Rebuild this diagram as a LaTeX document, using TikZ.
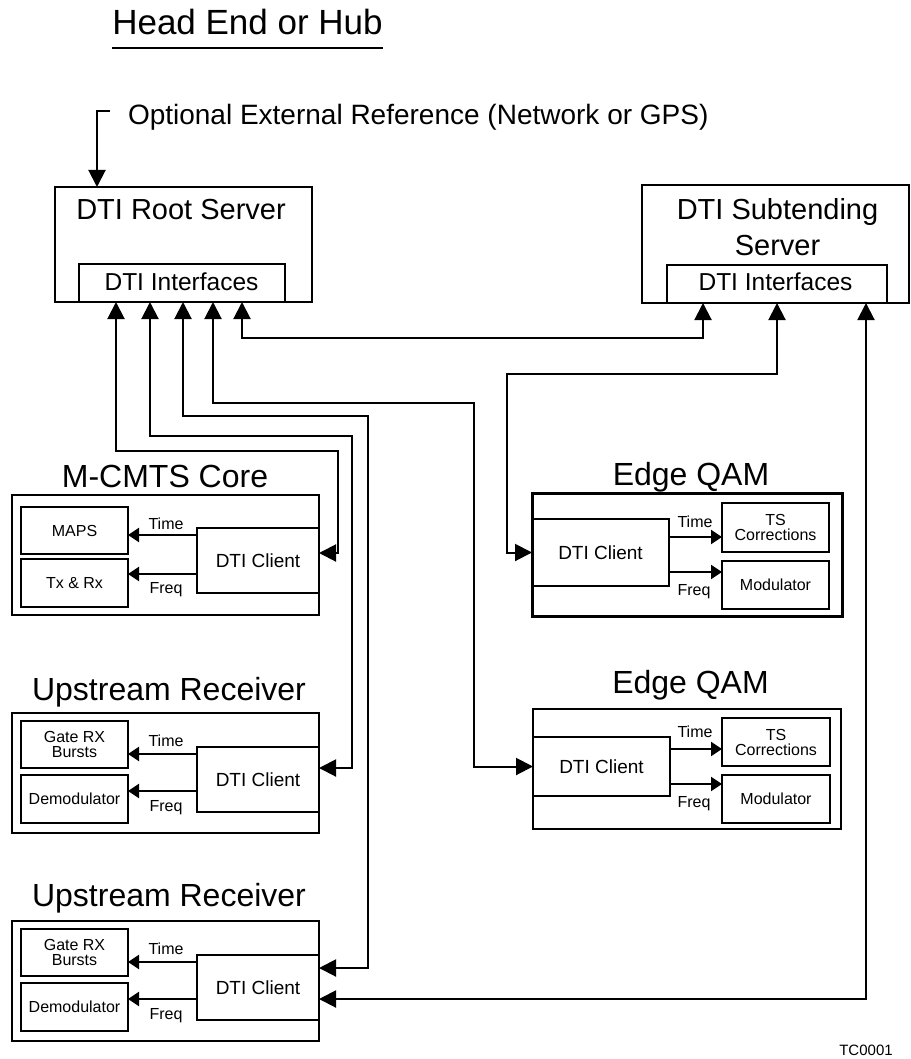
\documentclass[tikz,border=0pt]{standalone}
\usepackage{fontspec}
\setmainfont{Liberation Sans}
\usetikzlibrary{arrows.meta,calc}
\begin{document}
\begin{tikzpicture}[x=1pt,y=-1pt,
  box/.style={draw,line width=2pt,inner sep=0pt,outer sep=0pt},
  lbl/.style={inner sep=0pt,outer sep=0pt,anchor=base},
  ttl/.style={lbl,font=\fontsize{32}{38}\selectfont},
  sml/.style={lbl,font=\fontsize{16}{15}\selectfont},
  smbox/.style={box,align=center,font=\fontsize{16}{15}\selectfont},
  cli/.style={box,font=\fontsize{19}{23}\selectfont},
  dbl/.style={line width=2pt,{Triangle[length=17pt,width=17pt]}-{Triangle[length=17pt,width=17pt]}},
  one/.style={line width=2pt,-{Triangle[length=17pt,width=17pt]}},
  sm/.style={line width=2pt,-{Triangle[length=11pt,width=14pt]}}
]
\useasboundingbox (0,0) rectangle (910,1059);

% title
\node[lbl,font=\fontsize{35}{42}\selectfont] (title) at (247.5,35) {Head End or Hub};
\draw[line width=2pt] ([yshift=-13pt]title.base west) -- ([yshift=-13pt]title.base east);

% external reference
\node[lbl,anchor=base west,font=\fontsize{28}{34}\selectfont] (ext) at (128,125) {Optional External Reference (Network or GPS)};

% root server
\node[box,minimum width=257pt,minimum height=115pt] (root) at (183.5,244.5) {};
\node[lbl,font=\fontsize{29}{35}\selectfont] (roottxt) at (181,220) {DTI Root Server};
\node[box,minimum width=206pt,minimum height=38pt] (rootif) at (182,283) {};
\node[lbl,font=\fontsize{24.5}{29}\selectfont] at (181.5,290) {DTI Interfaces};

\coordinate (extc) at (110,111);
\draw[one] (extc) -| (root.north -| 97,0);

% subtending server
\node[box,minimum width=267pt,minimum height=118pt] (sub) at (775.5,244) {};
\node[lbl,font=\fontsize{29}{35}\selectfont] at (777.5,220) {DTI Subtending};
\node[lbl,font=\fontsize{29}{35}\selectfont] at (777.5,255) {Server};
\node[box,minimum width=220pt,minimum height=38pt] (subif) at (777,284) {};
\node[lbl,font=\fontsize{24.5}{29}\selectfont] at (775.5,290) {DTI Interfaces};

% M-CMTS Core
\node[ttl] at (165,487) {M-CMTS Core};
\node[box,minimum width=307pt,minimum height=120pt] (mc) at (165.5,555) {};
\node[smbox,minimum width=107pt,minimum height=47pt] (maps) at (74.5,530.5) {MAPS};
\node[smbox,minimum width=107pt,minimum height=48pt] (txrx) at (74.5,583) {Tx \& Rx};
\node[cli,minimum width=122pt,minimum height=65pt] (mcc) at (258,560.5) {DTI Client};
\coordinate (mct) at ([yshift=25.5pt]mcc.west);
\coordinate (mcf) at ([yshift=-13.5pt]mcc.west);
\draw[sm] (mct) -- (mct -| maps.east);
\draw[sm] (mcf) -- (mcf -| txrx.east);
\node[sml] at (166,529) {Time};
\node[sml] at (166,593) {Freq};

% Upstream Receiver 1
\node[ttl] at (169,700) {Upstream Receiver};
\node[box,minimum width=307pt,minimum height=120pt] (ur1) at (165.5,773) {};
\node[smbox,minimum width=107pt,minimum height=47pt] (gate1) at (74.5,744.5) {Gate RX\\Bursts};
\node[smbox,minimum width=107pt,minimum height=48pt] (demod1) at (74.5,799) {Demodulator};
\node[cli,minimum width=122pt,minimum height=65pt] (ur1c) at (258,779.5) {DTI Client};
\coordinate (u1t) at ([yshift=25.5pt]ur1c.west);
\coordinate (u1f) at ([yshift=-11.5pt]ur1c.west);
\draw[sm] (u1t) -- (u1t -| gate1.east);
\draw[sm] (u1f) -- (u1f -| demod1.east);
\node[sml] at (166,746) {Time};
\node[sml] at (166,811) {Freq};

% Upstream Receiver 2
\node[ttl] at (169,906) {Upstream Receiver};
\node[box,minimum width=307pt,minimum height=120pt] (ur2) at (165.5,981) {};
\node[smbox,minimum width=107pt,minimum height=47pt] (gate2) at (74.5,952.5) {Gate RX\\Bursts};
\node[smbox,minimum width=107pt,minimum height=48pt] (demod2) at (74.5,1007) {Demodulator};
\node[cli,minimum width=122pt,minimum height=65pt] (ur2c) at (258,987.5) {DTI Client};
\coordinate (u2t) at ([yshift=25.5pt]ur2c.west);
\coordinate (u2f) at ([yshift=-11.5pt]ur2c.west);
\draw[sm] (u2t) -- (u2t -| gate2.east);
\draw[sm] (u2f) -- (u2f -| demod2.east);
\node[sml] at (166,954) {Time};
\node[sml] at (166,1019) {Freq};

% Edge QAM 1
\node[ttl] at (691,485) {Edge QAM};
\node[box,line width=3pt,minimum width=310pt,minimum height=123pt] (eq1) at (687,554.5) {};
\node[cli,minimum width=137pt,minimum height=67pt] (eq1c) at (600.5,552.5) {DTI Client};
\node[smbox,minimum width=107pt,minimum height=49pt] (ts1) at (775.5,527.5) {TS\\Corrections};
\node[smbox,minimum width=107pt,minimum height=48pt] (mod1) at (775.5,585) {Modulator};
\coordinate (e1t) at ([yshift=15.5pt]eq1c.east);
\coordinate (e1f) at ([yshift=-19.5pt]eq1c.east);
\draw[sm] (e1t) -- (e1t -| ts1.west);
\draw[sm] (e1f) -- (e1f -| mod1.west);
\node[sml] at (695,527) {Time};
\node[sml] at (694,595) {Freq};

% Edge QAM 2
\node[ttl] at (690.5,693) {Edge QAM};
\node[box,minimum width=308pt,minimum height=120pt] (eq2) at (687,769) {};
\node[cli,minimum width=137pt,minimum height=59pt] (eq2c) at (601.5,766.5) {DTI Client};
\node[smbox,minimum width=108pt,minimum height=48pt] (ts2) at (776,742) {TS\\Corrections};
\node[smbox,minimum width=108pt,minimum height=48pt] (mod2) at (776,799) {Modulator};
\coordinate (e2t) at ([yshift=17.5pt]eq2c.east);
\coordinate (e2f) at ([yshift=-17.5pt]eq2c.east);
\draw[sm] (e2t) -- (e2t -| ts2.west);
\draw[sm] (e2f) -- (e2f -| mod2.west);
\node[sml] at (695,737) {Time};
\node[sml] at (694,807) {Freq};

% connectors
\draw[dbl] (rootif.south -| 116,0) |- (338,451) |- ([yshift=7.5pt]mcc.east);
\draw[dbl] (rootif.south -| 150,0) |- (352,436) |- ([yshift=11.5pt]ur1c.east);
\draw[dbl] (rootif.south -| 183,0) |- (368,416) |- ([yshift=19.5pt]ur2c.east);
\draw[dbl] (rootif.south -| 213,0) |- (474,403) |- (eq2c.west);
\draw[dbl] (rootif.south -| 242,0) |- (703,338) -- (subif.south -| 703,0);
\draw[dbl] (subif.south -| 777,0) |- (507,374) |- (eq1c.west);
\draw[dbl] (subif.south -| 866,0) |- ([yshift=-11.5pt]ur2c.east);

\node[lbl,font=\fontsize{15}{18}\selectfont] at (866,1055) {TC0001};
\end{tikzpicture}
\end{document}
